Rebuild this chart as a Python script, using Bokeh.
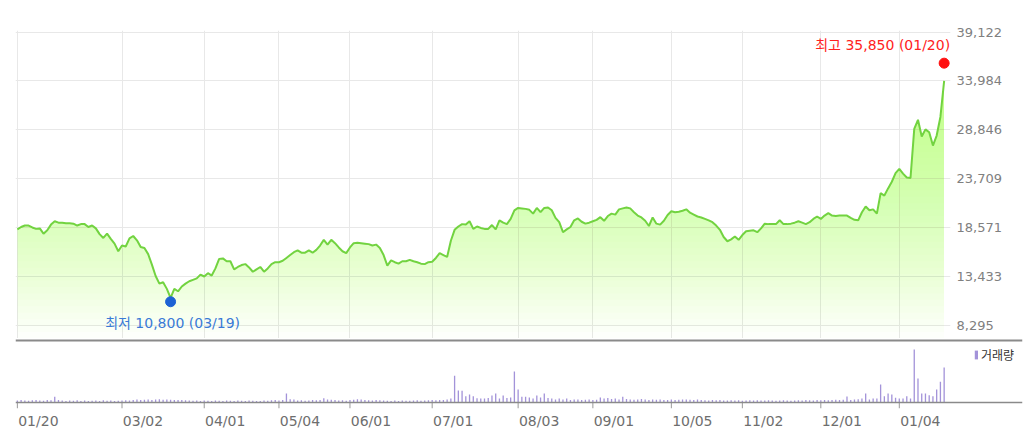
import numpy as np
from bokeh.plotting import figure
from bokeh.models import (Range1d, FixedTicker, NumeralTickFormatter, Label, Span,
                          Legend, LegendItem, Grid)
from bokeh.embed import file_html
from bokeh.resources import INLINE

# ---------------- data (daily closes, trading-day index 0 = 2020-01-20) ----------------
price = [
    18400, 18650, 18800, 18800, 18600, 18450, 18500, 17950, 18300, 18900,
    19250, 19100, 19100, 19050, 19050, 19000, 18800, 18950, 18950, 18650,
    18800, 18500, 17900, 17500, 17950, 17400, 16900, 16100, 16700, 16600,
    17450, 17700, 17250, 16550, 16450, 15800, 14700, 13500, 12700, 12850,
    12150, 11200, 12150, 11900, 12400, 12700, 12950, 13100, 13250, 13650,
    13450, 13800, 13550, 14300, 15300, 15350, 15050, 15050, 14200, 14450,
    14650, 14750, 14400, 13950, 14200, 14450, 13950, 14300, 14750, 14950,
    14950, 15100, 15400, 15700, 16000, 16200, 15950, 15950, 16200, 15950,
    16250, 16700, 17300, 16800, 17300, 16950, 16500, 16100, 15900, 16500,
    16950, 17000, 16950, 16900, 16850, 16700, 16800, 16450, 15700, 14600,
    15150, 14950, 14800, 15050, 15050, 15200, 15050, 14950, 14800, 14750,
    14950, 15000, 15400, 15900, 15700, 15500, 17200, 18350, 18700, 18950,
    18900, 19250, 18450, 18700, 18550, 18450, 18450, 18850, 18400, 19350,
    19100, 18950, 19500, 20400, 20650, 20600, 20550, 20450, 20050, 20650,
    20200, 20650, 20700, 20400, 19600, 19150, 18100, 18400, 18650, 19350,
    19550, 19200, 19000, 19100, 19250, 19400, 19680, 19300, 19800, 20050,
    19950, 20500, 20600, 20700, 20600, 20200, 19850, 19650, 19300, 18750,
    19650, 19000, 18900, 19300, 19900, 20300, 20200, 20250, 20350, 20500,
    20150, 19950, 19750, 19650, 19500, 19350, 19150, 18800, 18350, 17600,
    17150, 17350, 17650, 17300, 17800, 18200, 18250, 18300, 18100, 18500,
    19000, 18950, 18950, 18950, 19350, 18950, 18950, 19000, 19100, 19250,
    19100, 18950, 19150, 19500, 19750, 19500, 19850, 20100, 19850, 19800,
    19850, 19850, 19850, 19600, 19400, 19350, 20200, 20800, 20400, 20500,
    20050, 22200, 21950, 22700, 23400, 24300, 24750, 24250, 23850, 23800,
    28950, 29900, 28150, 28900, 28600, 27200, 28250, 30200, 34000,
]

volume = [
    200, 250, 200, 180, 220, 260, 200, 180, 240, 220,
    570, 250, 200, 150, 200, 180, 220, 160, 200, 150,
    180, 200, 150, 220, 180, 200, 150, 180, 200, 220,
    200, 250, 300, 250, 280, 300, 250, 300, 320, 280,
    300, 280, 250, 260, 240, 220, 200, 180, 200, 150,
    200, 180, 160, 200, 180, 150, 200, 180, 160, 200,
    180, 150, 200, 180, 160, 150, 200, 180, 220, 250,
    200, 250, 900, 330, 300, 200, 220, 180, 200, 250,
    230, 260, 420, 300, 280, 260, 200, 230, 180, 250,
    280, 320, 300, 260, 220, 200, 250, 230, 200, 180,
    160, 200, 150, 200, 180, 170, 200, 220, 180, 200,
    220, 250, 230, 260, 250, 300, 400, 2670, 1200, 1170,
    630, 800, 630, 430, 400, 400, 450, 700, 900, 400,
    700, 450, 500, 3100, 1300, 570, 570, 500, 400, 700,
    500, 900, 450, 400, 300, 400, 300, 400, 250, 300,
    300, 250, 280, 300, 250, 280, 500, 400, 450, 350,
    400, 300, 570, 350, 300, 280, 300, 350, 300, 250,
    300, 280, 300, 250, 250, 300, 250, 280, 300, 300,
    270, 250, 300, 250, 220, 200, 250, 220, 250, 200,
    200, 220, 200, 220, 180, 200, 220, 200, 220, 200,
    200, 220, 200, 180, 200, 220, 200, 180, 200, 220,
    200, 250, 220, 200, 250, 230, 250, 220, 260, 280,
    250, 280, 600, 250, 300, 320, 400, 900, 300, 400,
    400, 1800, 630, 900, 800, 470, 400, 400, 630, 400,
    5300, 2400, 900, 900, 730, 630, 1300, 2070, 3500,
]

xtick_idx = [0, 28, 50, 70, 89, 111, 134, 154, 175, 194, 215, 236]
xtick_labels = ["01/20", "03/02", "04/01", "05/04", "06/01", "07/01",
                "08/03", "09/01", "10/05", "11/02", "12/01", "01/04"]
ytick_values = [8295, 13433, 18571, 23709, 28846, 33984, 39122]

high_value, high_date, high_idx = 35850, "01/20", 248
low_value, low_date, low_idx = 10800, "03/19", 41

# ---------------- layout constants ----------------
FONT_NUM = "DejaVu Sans"
FONT_KR = "DejaVu Sans, Noto Sans CJK KR"
W = 1024
PRICE_FRAME_W = 935
VOL_FRAME_W = 1007
X0, X1 = -0.5, 249.7
px_per_day = PRICE_FRAME_W / (X1 - X0)
LABEL_SHIFT = 21 / px_per_day      # x-labels sit to the right of their tick
VOL_PER_PX = 100                   # volume units per pixel in the lower panel

xs = np.arange(len(price))
pr = np.array(price, dtype=float)

# ---------------- price panel ----------------
p = figure(width=W, height=338, output_backend="svg", toolbar_location=None,
           x_range=Range1d(X0, X1), y_range=Range1d(6940, 39280),
           y_axis_location="right", x_axis_location=None,
           min_border_left=15, min_border_right=W - 15 - PRICE_FRAME_W,
           min_border_top=30, min_border_bottom=0)
p.outline_line_color = None
p.background_fill_color = "white"
p.center = [c for c in p.center if not isinstance(c, Grid)]
p.add_layout(Grid(dimension=0, ticker=FixedTicker(ticks=xtick_idx),
                  grid_line_color="#e8e8e8", grid_line_width=1))
p.add_layout(Grid(dimension=1, ticker=FixedTicker(ticks=ytick_values),
                  grid_line_color="#e8e8e8", grid_line_width=1))

ax = p.yaxis[0]
ax.ticker = FixedTicker(ticks=ytick_values)
ax.formatter = NumeralTickFormatter(format="0,0")
ax.axis_line_color = None
ax.major_tick_line_color = None
ax.minor_tick_line_color = None
ax.major_tick_out = 0
ax.major_tick_in = 0
ax.major_label_standoff = 6
ax.major_label_text_font = FONT_NUM
ax.major_label_text_font_size = "13px"
ax.major_label_text_color = "#808080"

# gradient-like fill: stacked translucent bands under the line
levels = np.linspace(p.y_range.start, max(price), 40, endpoint=False)
for t in levels:
    p.varea(x=xs, y1=np.full(len(xs), t), y2=np.maximum(pr, t),
            fill_color="#9cee5c", fill_alpha=0.024)

p.line(xs, pr, line_color="#72d340", line_width=2)

p.scatter([high_idx], [high_value], size=10, color="#ff1010")
p.scatter([low_idx], [low_value], size=10, color="#1c62d4")

p.add_layout(Label(x=high_idx, y=high_value, text=f"최고 {high_value:,} ({high_date})",
                   text_align="right", text_baseline="middle", x_offset=6, y_offset=18,
                   text_color="#ff2222", text_font=FONT_KR, text_font_size="14px"))
p.add_layout(Label(x=low_idx, y=low_value, text=f"최저 {low_value:,} ({low_date})",
                   text_align="center", text_baseline="middle", x_offset=2, y_offset=-21,
                   text_color="#3a7ad6", text_font=FONT_KR, text_font_size="14px"))

# ---------------- volume panel ----------------
# frame spans page y 338..408: 62 px of bars above the baseline, 6 px of tick marks below
p2 = figure(width=W, height=105, output_backend="svg", toolbar_location=None,
            x_range=Range1d(X0, X0 + VOL_FRAME_W / px_per_day),
            y_range=Range1d(-6 * VOL_PER_PX, 64 * VOL_PER_PX),
            y_axis_location="right",
            min_border_left=15, min_border_right=W - 15 - VOL_FRAME_W,
            min_border_top=0, min_border_bottom=35)
p2.yaxis.visible = False
p2.outline_line_color = None
p2.center = [c for c in p2.center if not isinstance(c, Grid)]

vr = p2.vbar(x=xs, top=volume, width=0.35, fill_color="#a393d9", line_color=None)

# separator between the panels and the baseline of the volume bars
p2.add_layout(Span(location=62 * VOL_PER_PX, dimension="width", line_color="#8a8a8a", line_width=2))
p2.add_layout(Span(location=0, dimension="width", line_color="#8a8a8a", line_width=1.5))
# tick marks under the baseline
p2.segment(x0=xtick_idx, y0=[0] * len(xtick_idx), x1=xtick_idx,
           y1=[-6 * VOL_PER_PX] * len(xtick_idx), line_color="#9a9a9a", line_width=1)

# date labels, placed to the right of each tick
lab_pos = [i + LABEL_SHIFT for i in xtick_idx]
xa = p2.xaxis[0]
xa.ticker = FixedTicker(ticks=lab_pos)
xa.major_label_overrides = dict(zip(lab_pos, xtick_labels))
xa.axis_line_color = None
xa.major_tick_line_color = None
xa.minor_tick_line_color = None
xa.major_tick_out = 0
xa.major_tick_in = 0
xa.major_label_standoff = 4
xa.major_label_text_font = FONT_NUM
xa.major_label_text_font_size = "14px"
xa.major_label_text_color = "#6e6e6e"

legend = Legend(items=[LegendItem(label="거래량", renderers=[vr])], location="top_right",
                glyph_width=4, glyph_height=11, label_standoff=3, padding=0, margin=8,
                spacing=0, label_height=16, label_text_font_size="12px",
                label_text_color="#333333", label_text_font="Noto Sans CJK KR",
                background_fill_alpha=0, border_line_color=None)
p2.add_layout(legend)

open("out.html", "w").write(file_html([p, p2], INLINE))
